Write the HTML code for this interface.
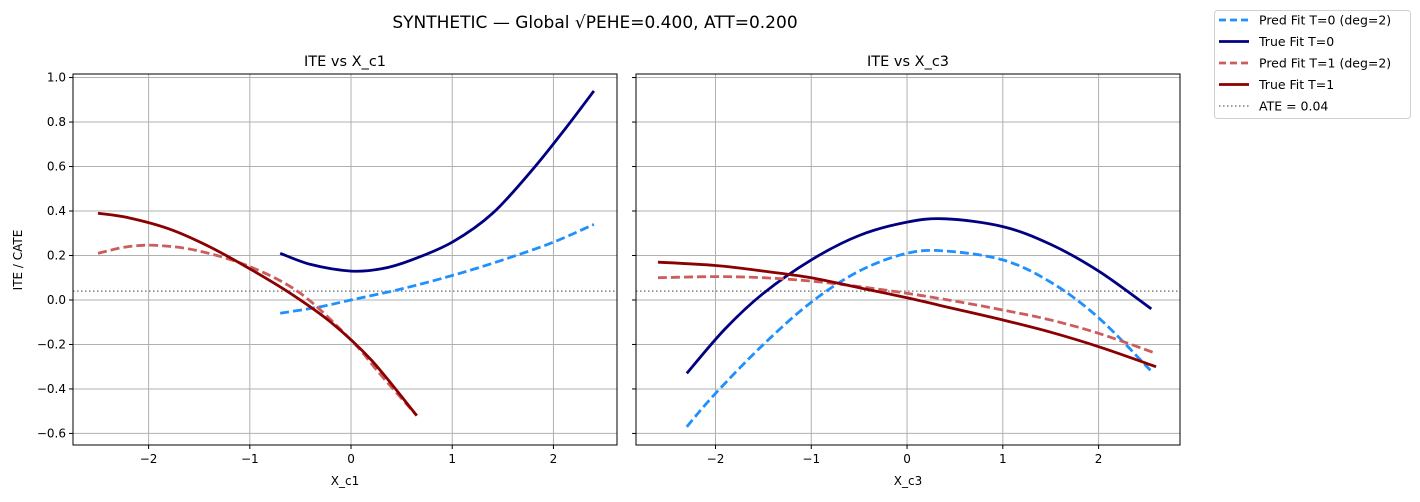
<!DOCTYPE html>
<html><head><meta charset="utf-8"><style>
body{margin:0;background:#fff;font-family:"DejaVu Sans","Liberation Sans",sans-serif}
svg text{font-family:"DejaVu Sans","Liberation Sans",sans-serif}
</style></head><body>
<svg id="chart" width="1420" height="498" xmlns="http://www.w3.org/2000/svg"></svg>
<script>
const ateValue = 0.04;
const leftPredT0X = [-0.7,-0.3,0,0.5,1,1.5,2,2.4];
const leftPredT0Y = [-0.06,-0.03,0,0.05,0.11,0.18,0.26,0.34];
const leftTrueT0X = [-0.7,-0.4,0,0.3,0.6,1,1.4,1.8,2.1,2.4];
const leftTrueT0Y = [0.21,0.16,0.13,0.14,0.18,0.26,0.39,0.59,0.76,0.94];
const leftPredT1X = [-2.5,-2.2,-1.9,-1.5,-1,-0.5,0,0.3,0.65];
const leftPredT1Y = [0.21,0.24,0.245,0.22,0.15,0.03,-0.18,-0.34,-0.52];
const leftTrueT1X = [-2.5,-2.2,-1.8,-1.4,-1,-0.6,-0.2,0.2,0.65];
const leftTrueT1Y = [0.39,0.37,0.32,0.24,0.14,0.03,-0.1,-0.27,-0.52];
const rightPredT0X = [-2.3,-2,-1.5,-1,-0.5,0,0.4,1,1.5,2,2.55];
const rightPredT0Y = [-0.57,-0.42,-0.2,-0.01,0.13,0.21,0.22,0.18,0.08,-0.08,-0.32];
const rightTrueT0X = [-2.3,-1.9,-1.5,-1,-0.5,0,0.4,1,1.5,2,2.55];
const rightTrueT0Y = [-0.33,-0.13,0.03,0.18,0.29,0.35,0.365,0.33,0.25,0.13,-0.04];
const rightPredT1X = [-2.6,-2,-1.5,-1,-0.5,0,0.5,1,1.5,2,2.6];
const rightPredT1Y = [0.10,0.105,0.10,0.085,0.06,0.03,-0.005,-0.045,-0.09,-0.15,-0.24];
const rightTrueT1X = [-2.6,-2,-1.5,-1,-0.5,0,0.5,1,1.5,2,2.6];
const rightTrueT1Y = [0.17,0.155,0.13,0.10,0.055,0.01,-0.04,-0.09,-0.145,-0.21,-0.30];
const xTicks = [-2,-1,0,1,2];
const xTickLabels = ["−2","−1","0","1","2"];
const yTicks = [1.0,0.8,0.6,0.4,0.2,0.0,-0.2,-0.4,-0.6];
const yTickLabels = ["1.0","0.8","0.6","0.4","0.2","0.0","−0.2","−0.4","−0.6"];

const NS="http://www.w3.org/2000/svg";
const svg=document.getElementById('chart');
function mk(tag,attrs,parent){const e=document.createElementNS(NS,tag);for(const k in attrs)e.setAttribute(k,attrs[k]);(parent||svg).appendChild(e);return e;}
const yTop=74,yBot=445,yMin=-0.652,yMax=1.016;
const yS=v=>yBot-(v-yMin)/(yMax-yMin)*(yBot-yTop);
function smooth(P){
  let d='M'+P[0][0].toFixed(1)+','+P[0][1].toFixed(1);
  for(let i=0;i<P.length-1;i++){
    const p0=P[Math.max(0,i-1)],p1=P[i],p2=P[i+1],p3=P[Math.min(P.length-1,i+2)];
    const c1=[p1[0]+(p2[0]-p0[0])/6,p1[1]+(p2[1]-p0[1])/6];
    const c2=[p2[0]-(p3[0]-p1[0])/6,p2[1]-(p3[1]-p1[1])/6];
    d+=' C'+c1.map(v=>v.toFixed(1)).join(',')+' '+c2.map(v=>v.toFixed(1)).join(',')+' '+p2.map(v=>v.toFixed(1)).join(',');
  }
  return d;
}
function panel(name,x0,x1,xmin,xmax,title,xlabel,showY,series){
  const g=mk('g',{});
  
  
  const xS=v=>x0+(v-xmin)/(xmax-xmin)*(x1-x0);
  xTicks.forEach((t,i)=>{
    const l=mk('line',{x1:xS(t),x2:xS(t),y1:yTop,y2:yBot,stroke:'#b0b0b0','stroke-width':1},g);
    
    mk('line',{x1:xS(t),x2:xS(t),y1:yBot,y2:yBot+4,stroke:'#000'},g);
    const tx=mk('text',{x:xS(t),y:yBot+18,'text-anchor':'middle','font-size':12},g);
    
    tx.textContent=xTickLabels[i];
  });
  yTicks.forEach((t,i)=>{
    const l=mk('line',{x1:x0,x2:x1,y1:yS(t),y2:yS(t),stroke:'#b0b0b0','stroke-width':1},g);
    
    mk('line',{x1:x0-4,x2:x0,y1:yS(t),y2:yS(t),stroke:'#000'},g);
    if(showY){const tx=mk('text',{x:x0-7,y:yS(t)+4,'text-anchor':'end','font-size':12},g);
      
      tx.textContent=yTickLabels[i];}
  });
  const ate=mk('line',{x1:x0,x2:x1,y1:yS(ateValue),y2:yS(ateValue),stroke:'#808080','stroke-width':1.5,'stroke-dasharray':'1.5,2.5'},g);
  
  series.forEach(s=>{
    const pts=s.x.map((v,i)=>[xS(v),yS(s.y[i])]);
    const p=mk('path',{d:smooth(pts),fill:'none',stroke:s.c,'stroke-width':2.8,'stroke-linejoin':'round'},g);
    if(s.dash)p.setAttribute('stroke-dasharray','9,4');
    
  });
  const fr=mk('rect',{x:x0,y:yTop,width:x1-x0,height:yBot-yTop,fill:'none',stroke:'#000','stroke-width':1},g);
  
  const tt=mk('text',{x:(x0+x1)/2,y:66,'text-anchor':'middle','font-size':14.5},g);
  tt.textContent=title;
  const xl=mk('text',{x:(x0+x1)/2,y:485,'text-anchor':'middle','font-size':12},g);
  xl.textContent=xlabel;
}
panel('panel-x-c1',73,617,-2.747,2.628,'ITE vs X_c1','X_c1',true,[
 {n:'pred-fit-t0',x:leftPredT0X,y:leftPredT0Y,c:'#1e90ff',dash:1},
 {n:'true-fit-t0',x:leftTrueT0X,y:leftTrueT0Y,c:'#000080'},
 {n:'pred-fit-t1',x:leftPredT1X,y:leftPredT1Y,c:'#cd5c5c',dash:1},
 {n:'true-fit-t1',x:leftTrueT1X,y:leftTrueT1Y,c:'#8b0000'}]);
panel('panel-x-c3',636,1180,-2.83,2.85,'ITE vs X_c3','X_c3',false,[
 {n:'pred-fit-t0',x:rightPredT0X,y:rightPredT0Y,c:'#1e90ff',dash:1},
 {n:'true-fit-t0',x:rightTrueT0X,y:rightTrueT0Y,c:'#000080'},
 {n:'pred-fit-t1',x:rightPredT1X,y:rightPredT1Y,c:'#cd5c5c',dash:1},
 {n:'true-fit-t1',x:rightTrueT1X,y:rightTrueT1Y,c:'#8b0000'}]);
const yl=mk('text',{x:22,y:260,'text-anchor':'middle','font-size':12,transform:'rotate(-90 22 260)'});
yl.textContent='ITE / CATE';
const ti=mk('text',{x:595,y:28,'text-anchor':'middle','font-size':17});
ti.textContent='SYNTHETIC — Global √PEHE=0.400, ATT=0.200';
const lg=mk('g',{});

mk('rect',{x:1214.5,y:10.5,width:196,height:108,rx:3,fill:'#fff',stroke:'#d0d0d0'},lg);
const items=[['Pred Fit T=0 (deg=2)','#1e90ff','7,4',2.8],['True Fit T=0','#000080','',2.8],['Pred Fit T=1 (deg=2)','#cd5c5c','7,4',2.8],['True Fit T=1','#8b0000','',2.8],['ATE = 0.04','#808080','1.5,2.5',1.5]];
items.forEach((it,i)=>{
  const y=20+i*21.5;
  const e=mk('g',{},lg);
  
  const l=mk('line',{x1:1219,x2:1249,y1:y,y2:y,stroke:it[1],'stroke-width':it[3]},e);
  if(it[2])l.setAttribute('stroke-dasharray',it[2]);
  const t=mk('text',{x:1259,y:y+4.5,'font-size':12.5},e);t.textContent=it[0];
});
</script>
</body></html>
